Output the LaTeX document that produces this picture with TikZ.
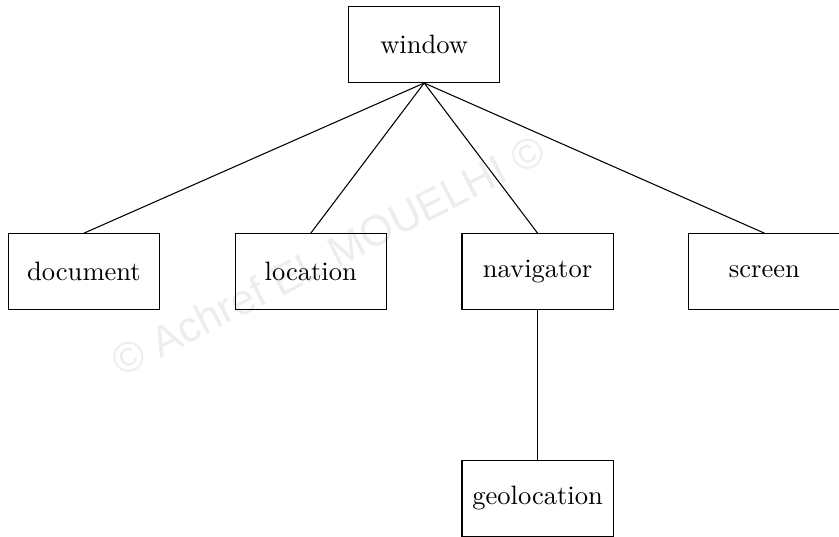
\documentclass[tikz,border=0pt]{standalone}
\usepackage{fontspec}
\newfontfamily\markfont{Liberation Sans}

\begin{document}
\begin{tikzpicture}[objbox/.style={draw, minimum width=2cm, minimum height=1cm}]
                    \useasboundingbox (-1.111,-3.499) rectangle (9.987,3.591);
                    % Watermark
                    \node[rotate=27, text=black!7, font=\markfont\fontsize{16}{16}\selectfont] (mark) at (3.23,0.21) {© Achref EL MOUELHI ©};
                    % Root object
                    \node[objbox] (window) at (4.5,3) {window};
                    % Children of window
                    \node[objbox] (document) at (0,0) {document};
                    \node[objbox] (location) at (3,0) {location};
                    \node[objbox] (navigator) at (6,0) {navigator};
                    \node[objbox] (screen) at (9,0) {screen};
                    % Child of navigator
                    \node[objbox] (geolocation) at (6,-3) {geolocation};
                    % Links
                    \draw (window.south) -- (document.north);
                    \draw (window.south) -- (location.north);
                    \draw (window.south) -- (navigator.north);
                    \draw (window.south) -- (screen.north);
                    \draw (navigator.south) -- (geolocation.north);
                \end{tikzpicture}
\end{document}
